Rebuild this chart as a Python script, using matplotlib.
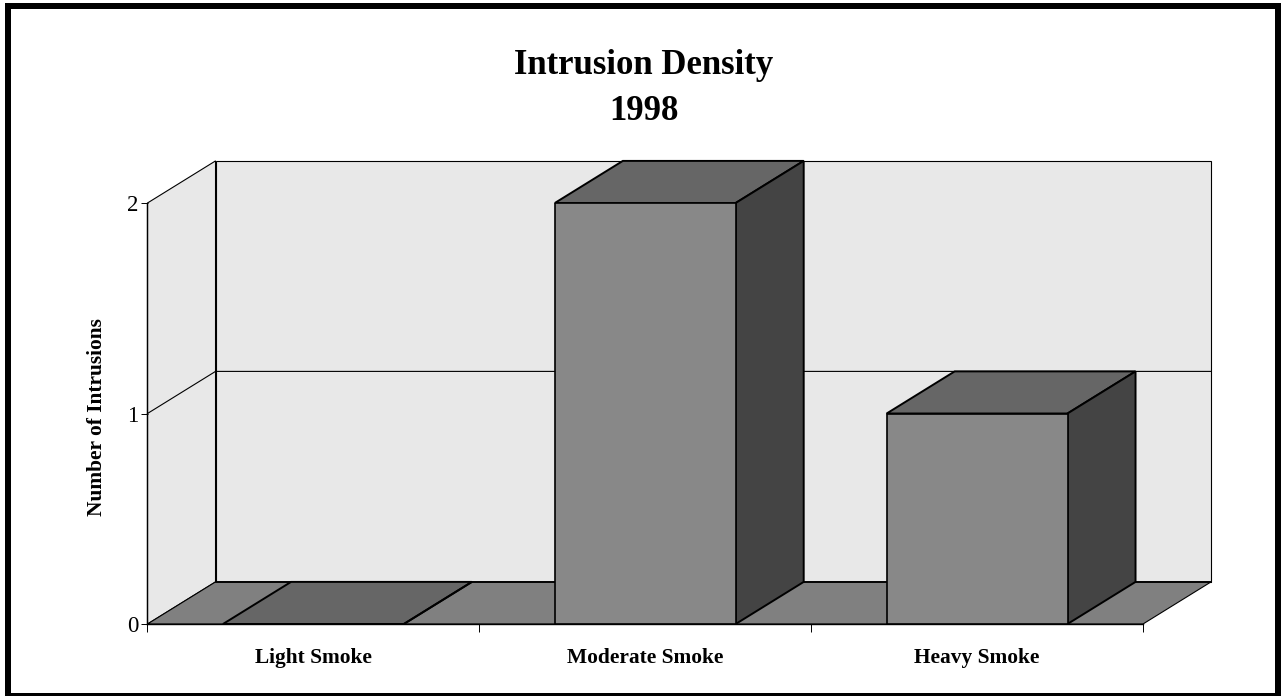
# -*- coding: utf-8 -*-
import matplotlib
matplotlib.use("Agg")
import matplotlib.pyplot as plt
from matplotlib.patches import Polygon, Rectangle

categories = ["Light Smoke", "Moderate Smoke", "Heavy Smoke"]
intrusions = [0, 2, 1]
y_ticks = [0, 1, 2]
title_lines = ["Intrusion Density", "1998"]
y_title = "Number of Intrusions"

W, H = 1281, 696
DPI = 100
SERIF = "Liberation Serif"

# depth of the fake 3d box, in data units
DX = 0.205
DY = 0.2
BAR_W = 0.545

WALL = "#e8e8e8"
FLOOR = "#808080"
FRONT = "#888888"
TOP = "#666666"
SIDE = "#444444"

fig = plt.figure(figsize=(W / DPI, H / DPI), dpi=DPI, facecolor="white")
ax = fig.add_axes([147.5 / W, (H - 624) / H, 995.5 / W, 421 / H])
ax.set_xlim(-0.5, 2.5)
ax.set_ylim(0, 2)
ax.patch.set_visible(False)
for sp in ax.spines.values():
    sp.set_visible(False)

x0, x1 = ax.get_xlim()
y0, y1 = ax.get_ylim()


def poly(pts, fc, lw=0.8, z=1):
    ax.add_patch(Polygon(pts, closed=True, facecolor=fc, edgecolor="black",
                         linewidth=lw, joinstyle="miter", clip_on=False, zorder=z))


# walls and floor
poly([(x0, y0), (x0 + DX, y0 + DY), (x0 + DX, y1 + DY), (x0, y1)], WALL)
poly([(x0 + DX, y0 + DY), (x1 + DX, y0 + DY), (x1 + DX, y1 + DY), (x0 + DX, y1 + DY)], WALL)
poly([(x0, y0), (x1, y0), (x1 + DX, y0 + DY), (x0 + DX, y0 + DY)], FLOOR)
ax.plot([x0 + DX, x1 + DX], [y0 + DY, y0 + DY], color="black", lw=1.3, clip_on=False, zorder=1.5)

# gridlines on the walls
for t in y_ticks[1:-1]:
    ax.plot([x0, x0 + DX, x1 + DX], [t, t + DY, t + DY], color="black", lw=0.8,
            clip_on=False, zorder=1.5)

# bars
xs = list(range(len(categories)))
ax.bar(xs, intrusions, width=BAR_W, color=FRONT, edgecolor="black", linewidth=1.2, zorder=3)
for x, v in zip(xs, intrusions):
    l, r = x - BAR_W / 2, x + BAR_W / 2
    poly([(l, v), (r, v), (r + DX, v + DY), (l + DX, v + DY)], TOP, lw=1.4, z=2.5)
    poly([(r, 0), (r + DX, DY), (r + DX, v + DY), (r, v)], SIDE, lw=1.4, z=2.5)

# axes
ax.set_yticks(y_ticks)
ax.set_yticklabels([str(t) for t in y_ticks], fontfamily=SERIF, fontsize=16.5)
ax.tick_params(axis="y", length=5, width=0.7, pad=1.5)
ax.set_xticks([x - 0.5 for x in xs] + [xs[-1] + 0.5])
ax.set_xticklabels([])
ax.tick_params(axis="x", which="major", length=6, width=0.7)
ax.set_xticks(xs, minor=True)
ax.set_xticklabels(categories, minor=True, fontfamily=SERIF, fontweight="bold", fontsize=15.4)
ax.tick_params(axis="x", which="minor", length=0, pad=17)
ax.plot([x0, x0], [y0, y1], color="black", lw=1.0, clip_on=False, zorder=1.6)
ax.plot([x0, x1], [y0, y0], color="black", lw=1.0, clip_on=False, zorder=2)

fig.text(97.5 / W, 1 - 417 / H, y_title, rotation=90, ha="center", va="center",
         fontfamily=SERIF, fontweight="bold", fontsize=15.4)
fig.text(643.5 / W, 1 - 65 / H, title_lines[0], ha="center", va="center",
         fontfamily=SERIF, fontweight="bold", fontsize=25)
fig.text(643.5 / W, 1 - 111 / H, title_lines[1], ha="center", va="center",
         fontfamily=SERIF, fontweight="bold", fontsize=25)

# black frame round the whole picture
fig.add_artist(Rectangle((8 / W, 0), (1278 - 8) / W, 1 - 6 / H, transform=fig.transFigure,
                         facecolor="none", edgecolor="black", linewidth=4.32,
                         joinstyle="miter", clip_on=False))

fig.savefig("out.png", dpi=DPI)
